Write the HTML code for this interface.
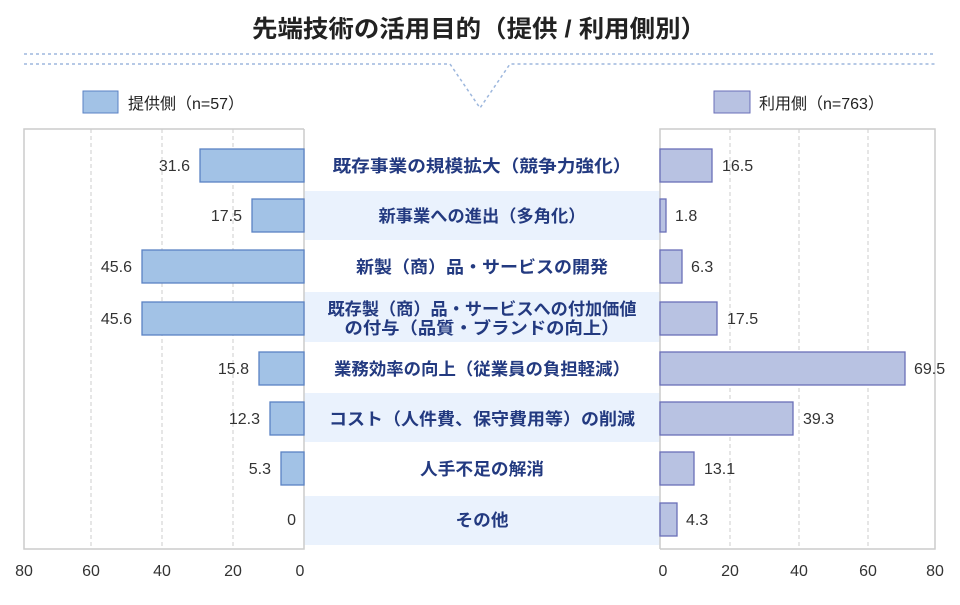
<!DOCTYPE html>
<html><head><meta charset="utf-8"><style>
body{margin:0;background:#fff;}
svg text{font-family:"Liberation Sans","Noto Sans CJK JP",sans-serif;}
</style></head><body>
<svg width="960" height="600" viewBox="0 0 960 600" xmlns="http://www.w3.org/2000/svg">
<text x="479" y="37" text-anchor="middle" font-size="24" font-weight="bold" fill="#222" textLength="454" lengthAdjust="spacingAndGlyphs">先端技術の活用目的（提供 / 利用側別）</text>
<g stroke="#9db7dd" stroke-width="1.5" stroke-dasharray="3,3" fill="none">
<line x1="24" y1="54" x2="935" y2="54"/>
<polyline points="24,64 450,64 480,108 510,64 935,64"/>
</g>
<rect x="83" y="91" width="35" height="22" fill="#a2c2e6" stroke="#5a82c4"/>
<text x="128" y="109" font-size="16" fill="#222">提供側（n=57）</text>
<rect x="714" y="91" width="36" height="22" fill="#b8c2e2" stroke="#6a6fb8"/>
<text x="759" y="109" font-size="16" fill="#222">利用側（n=763）</text>
<g fill="#eaf2fd">
<rect x="304" y="191" width="356" height="49"/>
<rect x="304" y="292" width="356" height="50"/>
<rect x="304" y="393" width="356" height="49"/>
<rect x="304" y="496" width="356" height="49"/>
</g>
<g stroke="#ccc" stroke-dasharray="4,3">
<line x1="91" y1="129" x2="91" y2="549"/><line x1="162" y1="129" x2="162" y2="549"/><line x1="233" y1="129" x2="233" y2="549"/>
<line x1="730" y1="129" x2="730" y2="549"/><line x1="799" y1="129" x2="799" y2="549"/><line x1="868" y1="129" x2="868" y2="549"/>
</g>
<g fill="none" stroke="#ccc" stroke-width="1.5">
<polyline points="304,129 24,129 24,549 304,549 304,129"/>
<polyline points="660,549 660,129 935,129 935,549 660,549"/>
</g>
<g fill="#a2c2e6" stroke="#5a82c4" stroke-width="1.3">
<rect x="200" y="149" width="104" height="33"/>
<rect x="252" y="199" width="52" height="33"/>
<rect x="142" y="250" width="162" height="33"/>
<rect x="142" y="302" width="162" height="33"/>
<rect x="259" y="352" width="45" height="33"/>
<rect x="270" y="402" width="34" height="33"/>
<rect x="281" y="452" width="23" height="33"/>
</g>
<g fill="#b8c2e2" stroke="#6a6fb8" stroke-width="1.3">
<rect x="660" y="149" width="52" height="33"/>
<rect x="660" y="199" width="6" height="33"/>
<rect x="660" y="250" width="22" height="33"/>
<rect x="660" y="302" width="57" height="33"/>
<rect x="660" y="352" width="245" height="33"/>
<rect x="660" y="402" width="133" height="33"/>
<rect x="660" y="452" width="34" height="33"/>
<rect x="660" y="503" width="17" height="33"/>
</g>
<g font-size="16" fill="#333" text-anchor="end">
<text x="190" y="171">31.6</text><text x="242" y="221">17.5</text><text x="132" y="272">45.6</text><text x="132" y="324">45.6</text>
<text x="249" y="374">15.8</text><text x="260" y="424">12.3</text><text x="271" y="474">5.3</text><text x="296" y="525">0</text>
</g>
<g font-size="16" fill="#333">
<text x="722" y="171">16.5</text><text x="675" y="221">1.8</text><text x="691" y="272">6.3</text><text x="727" y="324">17.5</text>
<text x="914" y="374">69.5</text><text x="803" y="424">39.3</text><text x="704" y="474">13.1</text><text x="686" y="525">4.3</text>
</g>
<g font-size="17" font-weight="bold" fill="#233a80" text-anchor="middle">
<text x="482" y="172" textLength="299" lengthAdjust="spacingAndGlyphs">既存事業の規模拡大（競争力強化）</text>
<text x="482" y="222" textLength="207" lengthAdjust="spacingAndGlyphs">新事業への進出（多角化）</text>
<text x="482" y="273" textLength="252" lengthAdjust="spacingAndGlyphs">新製（商）品・サービスの開発</text>
<text x="482" y="315" textLength="309" lengthAdjust="spacingAndGlyphs">既存製（商）品・サービスへの付加価値</text>
<text x="482" y="334" textLength="275" lengthAdjust="spacingAndGlyphs">の付与（品質・ブランドの向上）</text>
<text x="482" y="375" textLength="296" lengthAdjust="spacingAndGlyphs">業務効率の向上（従業員の負担軽減）</text>
<text x="482" y="425" textLength="306" lengthAdjust="spacingAndGlyphs">コスト（人件費、保守費用等）の削減</text>
<text x="482" y="475" textLength="124" lengthAdjust="spacingAndGlyphs">人手不足の解消</text>
<text x="482" y="526" textLength="53" lengthAdjust="spacingAndGlyphs">その他</text>
</g>
<g font-size="16" fill="#333" text-anchor="middle">
<text x="24" y="576">80</text><text x="91" y="576">60</text><text x="162" y="576">40</text><text x="233" y="576">20</text><text x="300" y="576">0</text>
<text x="663" y="576">0</text><text x="730" y="576">20</text><text x="799" y="576">40</text><text x="868" y="576">60</text><text x="935" y="576">80</text>
</g>
</svg>
</body></html>
